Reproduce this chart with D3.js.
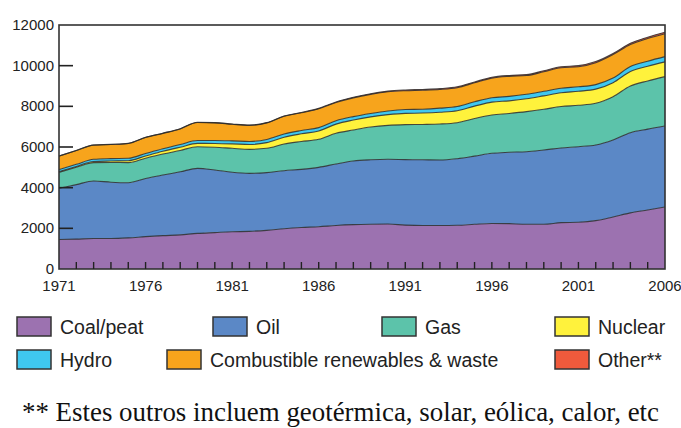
<!DOCTYPE html>
<meta charset="utf-8">
<style>
body { margin: 0; background: #fff; }
.tick-label { font-family: "Liberation Sans", Arial, sans-serif; font-size: 15px; fill: #222; }
.legend-label { font-family: "Liberation Sans", Arial, sans-serif; font-size: 19.5px; fill: #222; }
.note { font-family: "Liberation Serif", "Times New Roman", serif; font-size: 26.9px; fill: #111; }
</style>
<script src="https://d3js.org/d3.v7.min.js"></script>
<div id="chart"></div>
<script>

// ---------------------------//
//       DATA (Mtoe)          //
// ---------------------------//
var years = [1971,1972,1973,1974,1975,1976,1977,1978,1979,1980,1981,1982,1983,1984,1985,1986,1987,1988,
             1989,1990,1991,1992,1993,1994,1995,1996,1997,1998,1999,2000,2001,2002,2003,2004,2005,2006];

var coal = [1450,1470,1500,1500,1530,1590,1640,1680,1750,1790,1830,1850,1900,1980,2040,2080,2140,2180,
            2200,2210,2160,2140,2140,2150,2200,2240,2230,2200,2200,2280,2300,2380,2560,2760,2900,3050];
var oil = [2520,2680,2830,2770,2715,2860,2980,3100,3200,3080,2925,2855,2840,2855,2860,2920,3025,3130,
           3170,3185,3220,3230,3220,3275,3350,3450,3510,3570,3655,3670,3715,3720,3785,3945,3980,3985];
var gas = [785,850,900,970,985,1000,1035,1050,1065,1120,1180,1180,1195,1315,1370,1380,1510,1525,
           1610,1670,1720,1740,1770,1770,1850,1885,1910,1970,2000,2040,2035,2050,2130,2295,2370,2425];
var nuclear = [30,40,55,70,95,110,135,160,165,185,220,240,280,330,380,410,450,490,
               500,525,555,560,580,590,610,630,620,630,660,675,690,695,690,715,720,728];
var hydro = [105,108,110,118,120,122,125,133,138,142,145,148,155,158,160,163,165,170,
             170,184,190,190,200,203,213,216,220,222,224,225,220,224,225,240,250,258];
var renewables = [662,676,698,695,727,790,756,767,886,871,817,793,815,870,871,925,900,922,
                  938,940,922,930,919,930,934,965,985,922,963,1010,989,1078,1155,1085,1116,1124];
var other = [6,6,7,7,8,8,9,10,11,12,13,14,15,17,19,22,25,28,
             32,36,38,40,41,42,43,44,45,46,48,50,51,53,55,60,64,70];

var yTicks = [0,2000,4000,6000,8000,10000,12000];
var xLabels = [1971,1976,1981,1986,1991,1996,2001,2006];

var keys = ["coal","oil","gas","nuclear","hydro","renewables","other"];
var labels = {coal:"Coal/peat", oil:"Oil", gas:"Gas", nuclear:"Nuclear", hydro:"Hydro",
              renewables:"Combustible renewables & waste", other:"Other**"};
var colors = {coal:"#9c72b0", oil:"#5b88c6", gas:"#5cc3aa", nuclear:"#fff23c", hydro:"#3fc8f0",
              renewables:"#f7a41c", other:"#f05a3c"};

var table = years.map(function(y, i) {
  return {year:y, coal:coal[i], oil:oil[i], gas:gas[i], nuclear:nuclear[i], hydro:hydro[i],
          renewables:renewables[i], other:other[i]};
});

// ---------------------------//
//       SVG + SCALES         //
// ---------------------------//
var W = 681, H = 428;
var plot = {left: 59, right: 665, top: 25, bottom: 269};

var svg = d3.select("#chart").append("svg")
  .attr("width", W)
  .attr("height", H);

var x = d3.scaleLinear().domain([1971, 2006]).range([plot.left, plot.right]);
var y = d3.scaleLinear().domain([0, 12000]).range([plot.bottom, plot.top]);

var stacked = d3.stack().keys(keys)(table);

var area = d3.area()
  .x(function(d) { return x(d.data.year); })
  .y0(function(d) { return y(d[0]); })
  .y1(function(d) { return y(d[1]); })
  .curve(d3.curveMonotoneX);

var topLine = d3.line()
  .x(function(d) { return x(d.data.year); })
  .y(function(d) { return y(d[1]); })
  .curve(d3.curveMonotoneX);

svg.append("g")
  .selectAll("path")
  .data(stacked)
  .enter()
  .append("path")
    .attr("d", area)
    .style("fill", function(d) { return colors[d.key]; });

// dark outlines between layers
svg.append("g")
  .selectAll("path")
  .data(stacked)
  .enter()
  .append("path")
    .attr("d", topLine)
    .style("fill", "none")
    .style("stroke", "#2b2b2b")
    .style("stroke-width", 1.1)
    .style("opacity", 0.85);

// ---------------------------//
//       FRAME + AXES         //
// ---------------------------//
svg.append("rect")
  .attr("x", plot.left)
  .attr("y", plot.top)
  .attr("width", plot.right - plot.left)
  .attr("height", plot.bottom - plot.top)
  .style("fill", "none")
  .style("stroke", "#333")
  .style("stroke-width", 1.6);

// y ticks point into the plot
svg.append("g")
  .selectAll("line")
  .data(yTicks.slice(1, -1))
  .enter()
  .append("line")
    .attr("x1", plot.left)
    .attr("x2", plot.left + 14)
    .attr("y1", function(d) { return y(d); })
    .attr("y2", function(d) { return y(d); })
    .style("stroke", "#222")
    .style("stroke-width", 1.6);

svg.append("g")
  .selectAll("text")
  .data(yTicks)
  .enter()
  .append("text")
    .attr("class", "tick-label")
    .attr("text-anchor", "end")
    .attr("x", plot.left - 5)
    .attr("y", function(d) { return y(d) + 5; })
    .text(function(d) { return d; });

// year ticks along the bottom
svg.append("g")
  .selectAll("line")
  .data(years.slice(1, -1))
  .enter()
  .append("line")
    .attr("x1", function(d) { return x(d); })
    .attr("x2", function(d) { return x(d); })
    .attr("y1", plot.bottom)
    .attr("y2", plot.bottom - 7)
    .style("stroke", "#222")
    .style("stroke-width", 1.4);

svg.append("g")
  .selectAll("text")
  .data(xLabels)
  .enter()
  .append("text")
    .attr("class", "tick-label")
    .attr("text-anchor", "middle")
    .attr("x", function(d) { return x(d); })
    .attr("y", plot.bottom + 22)
    .text(function(d) { return d; });

// ---------------------------//
//       LEGEND               //
// ---------------------------//
var legendItems = [
  {key:"coal", x:17, row:0}, {key:"oil", x:213, row:0}, {key:"gas", x:382, row:0}, {key:"nuclear", x:555, row:0},
  {key:"hydro", x:17, row:1}, {key:"renewables", x:167, row:1}, {key:"other", x:555, row:1}
];
var rowY = [317, 350];

var legend = svg.append("g")
  .selectAll("g")
  .data(legendItems)
  .enter()
  .append("g")
    .attr("transform", function(d) { return "translate(" + d.x + "," + rowY[d.row] + ")"; });

legend.append("rect")
  .attr("width", 34)
  .attr("height", 19)
  .style("fill", function(d) { return colors[d.key]; })
  .style("stroke", "#333")
  .style("stroke-width", 1.5);

legend.append("text")
  .attr("class", "legend-label")
  .attr("x", 43)
  .attr("y", 17)
  .text(function(d) { return labels[d.key]; });

svg.append("text")
  .attr("class", "note")
  .attr("x", 22)
  .attr("y", 421)
  .text("** Estes outros incluem geotérmica, solar, eólica, calor, etc");

</script>
